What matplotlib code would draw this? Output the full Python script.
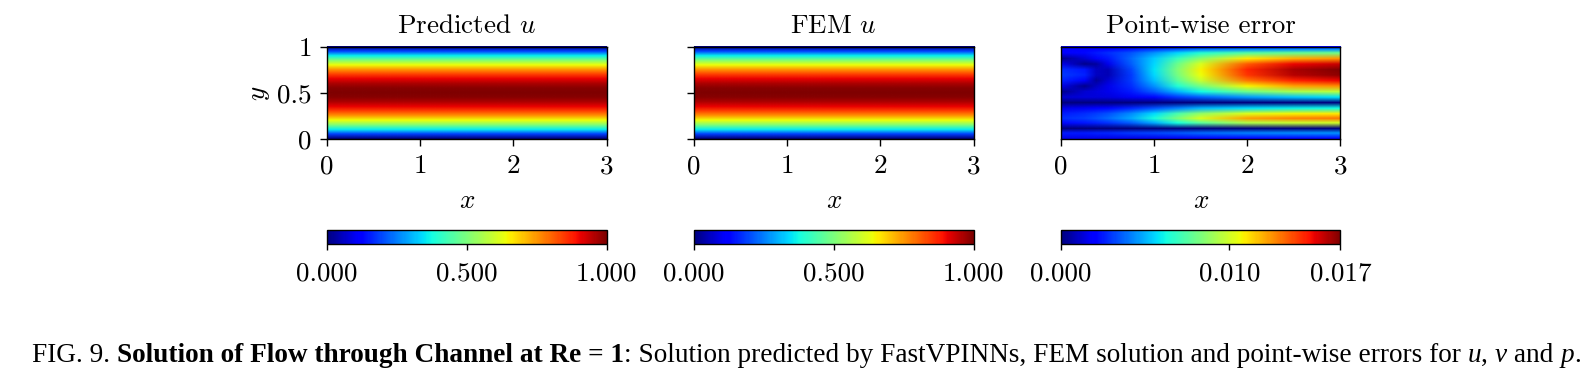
import numpy as np
import matplotlib
matplotlib.use("Agg")
import matplotlib.pyplot as plt
from matplotlib.image import NonUniformImage

# ---------------- data ----------------
# velocity u profile across the channel (independent of x)
u_y = [0.00, 0.05, 0.10, 0.15, 0.20, 0.25, 0.30, 0.35, 0.40, 0.45, 0.50,
       0.55, 0.60, 0.65, 0.70, 0.75, 0.80, 0.85, 0.90, 0.95, 1.00]
u_pred = [0.00, 0.19, 0.36, 0.51, 0.64, 0.75, 0.84, 0.91, 0.96, 0.99, 1.00,
          0.99, 0.96, 0.91, 0.84, 0.75, 0.64, 0.51, 0.36, 0.19, 0.00]
u_fem = [0.00, 0.19, 0.36, 0.51, 0.64, 0.75, 0.84, 0.91, 0.96, 0.99, 1.00,
         0.99, 0.96, 0.91, 0.84, 0.75, 0.64, 0.51, 0.36, 0.19, 0.00]
channel_x = [0.0, 3.0]

# point-wise error, in units of 1e-3 (rows: err_y ascending, cols: err_x)
err_x = [0.0, 0.25, 0.375, 0.5, 0.75, 1.0, 1.25, 1.5, 2.0, 2.5, 3.0]
err_y = [0.00, 0.06, 0.11, 0.17, 0.22, 0.27, 0.33, 0.39, 0.45, 0.51,
         0.57, 0.63, 0.69, 0.75, 0.81, 0.87, 0.93, 0.97, 1.00]
err_vals = [
    [1.5, 1.5, 1.5, 1.5, 1.5, 1.6, 1.7, 1.8, 2.0, 2.0, 2.0],
    [2.5, 2.5, 2.6, 2.7, 3.0, 3.2, 3.5, 3.8, 4.2, 4.4, 4.5],
    [0.0, 0.0, 0.0, 0.0, 0.0, 0.0, 0.0, 0.0, 0.0, 0.0, 0.0],
    [2.2, 2.4, 2.6, 2.9, 3.6, 4.8, 6.3, 7.6, 9.3, 9.8, 10.0],
    [2.8, 3.1, 3.4, 3.8, 4.8, 6.3, 8.3, 10.2, 12.3, 12.8, 13.0],
    [2.5, 2.8, 3.1, 3.4, 4.4, 5.7, 7.3, 8.8, 10.3, 10.8, 11.0],
    [1.5, 1.7, 1.9, 2.2, 2.7, 3.4, 4.2, 5.0, 5.7, 6.0, 6.2],
    [0.0, 0.0, 0.0, 0.0, 0.0, 0.0, 0.0, 0.0, 0.0, 0.0, 0.0],
    [1.2, 1.3, 1.3, 1.4, 1.7, 2.2, 3.0, 3.6, 4.6, 5.3, 5.8],
    [0.2, 1.2, 1.4, 1.6, 2.5, 3.6, 5.0, 6.2, 8.0, 9.2, 9.6],
    [1.5, 0.2, 1.0, 1.6, 2.8, 4.5, 6.5, 8.2, 10.8, 12.2, 12.6],
    [2.6, 1.8, 0.4, 1.2, 3.0, 5.2, 7.6, 9.8, 13.0, 14.5, 15.0],
    [3.0, 2.6, 1.0, 0.8, 3.0, 5.6, 8.2, 10.6, 14.2, 15.8, 16.4],
    [2.8, 2.4, 1.0, 0.8, 3.2, 5.8, 8.4, 10.8, 14.4, 16.0, 16.6],
    [1.6, 0.2, 0.5, 1.6, 3.6, 5.6, 8.0, 10.2, 13.5, 15.0, 15.5],
    [0.2, 1.2, 1.8, 2.4, 3.8, 5.4, 7.0, 8.6, 11.0, 12.0, 12.5],
    [2.0, 2.2, 2.5, 2.8, 3.5, 4.5, 5.6, 6.5, 7.5, 7.8, 8.0],
    [2.0, 2.0, 2.1, 2.2, 2.5, 3.0, 3.5, 4.0, 4.3, 4.4, 4.4],
    [1.5, 1.5, 1.5, 1.5, 1.5, 1.6, 1.7, 1.8, 2.0, 2.0, 2.0],
]
err_max = 0.0166

titles = ["Predicted $u$", "FEM $u$", "Point-wise error"]
x_ticks = [0, 1, 2, 3]
x_ticklabels = ["0", "1", "2", "3"]
y_ticks = [0, 0.5, 1]
y_ticklabels = ["0", "0.5", "1"]
u_cbar_ticks = [0.0, 0.5, 1.0]
u_cbar_labels = ["0.000", "0.500", "1.000"]
err_cbar_ticks = [0.0, 0.010, err_max]
err_cbar_labels = ["0.000", "0.010", "0.017"]

caption_parts = [
    ("FIG. 9. ", "normal", "normal"),
    ("Solution of Flow through Channel at Re = 1", "bold", "normal"),
    (": Solution predicted by FastVPINNs, FEM solution and point-wise errors for ", "normal", "normal"),
    ("u", "normal", "italic"),
    (", ", "normal", "normal"),
    ("v", "normal", "italic"),
    (" and ", "normal", "normal"),
    ("p", "normal", "italic"),
    (".", "normal", "normal"),
]

# ---------------- style ----------------
FS = 19.5
plt.rcParams.update({
    "font.family": "cmr10",
    "mathtext.fontset": "cm",
    "axes.formatter.use_mathtext": True,
    "axes.unicode_minus": False,
    "font.size": FS,
    "axes.linewidth": 1.0,
    "xtick.major.size": 5,
    "ytick.major.size": 5,
    "xtick.major.pad": 6,
    "ytick.major.pad": 6,
    "xtick.major.width": 1.0,
    "ytick.major.width": 1.0,
})

W, H = 1591, 380
fig = plt.figure(figsize=(W / 100, H / 100), dpi=100)


def px_axes(x0, x1, y0, y1):
    return fig.add_axes([x0 / W, (H - y1) / H, (x1 - x0) / W, (y1 - y0) / H])


lefts = [327, 694, 1061]
axes = [px_axes(l, l + 279.5, 47, 139) for l in lefts]
caxes = [px_axes(l, l + 279.5, 230, 244) for l in lefts]

cmap = "jet"


def field(ax, xs, ys, Z, vmax):
    im = NonUniformImage(ax, interpolation="bilinear", extent=(0, 3, 0, 1),
                         cmap=cmap)
    im.set_data(np.asarray(xs, float), np.asarray(ys, float), Z)
    im.set_clim(0, vmax)
    ax.add_image(im)
    return im


meshes = []
for ax, prof in zip(axes[:2], [u_pred, u_fem]):
    Z = np.column_stack([prof, prof])
    meshes.append(field(ax, channel_x, u_y, Z, 1.0))

Ze = np.array(err_vals) * 1e-3
meshes.append(field(axes[2], err_x, err_y, Ze, err_max))

for i, ax in enumerate(axes):
    ax.set_xlim(0, 3)
    ax.set_ylim(0, 1)
    ax.set_title(titles[i], fontsize=FS, pad=10)
    ax.set_xticks(x_ticks, labels=x_ticklabels)
    ax.set_xlabel("$x$", fontsize=FS, labelpad=8)
    if i == 0:
        ax.set_yticks(y_ticks, labels=y_ticklabels)
        ax.set_ylabel("$y$", fontsize=FS, labelpad=4)
    elif i == 1:
        ax.set_yticks(y_ticks, labels=["", "", ""])
    else:
        ax.set_yticks([])

for i, (cax, m) in enumerate(zip(caxes, meshes)):
    cb = fig.colorbar(m, cax=cax, orientation="horizontal")
    if i < 2:
        cb.set_ticks(u_cbar_ticks, labels=u_cbar_labels)
    else:
        cb.set_ticks(err_cbar_ticks, labels=err_cbar_labels)
    cb.outline.set_linewidth(1.0)
    cax.tick_params(length=4, pad=9, labelsize=FS)

# caption
cap_font = "Liberation Serif"
cap_size = 19.6
prev = None
for text, weight, style in caption_parts:
    if prev is None:
        prev = fig.text(32 / W, (H - 362) / H, text, family=cap_font,
                        fontsize=cap_size, fontweight=weight, style=style,
                        va="baseline", ha="left")
    else:
        prev = axes[0].annotate(text, xy=(1, 0), xycoords=prev, va="bottom",
                                ha="left", family=cap_font, fontsize=cap_size,
                                fontweight=weight, style=style,
                                annotation_clip=False)

fig.savefig("out.png", dpi=100)
